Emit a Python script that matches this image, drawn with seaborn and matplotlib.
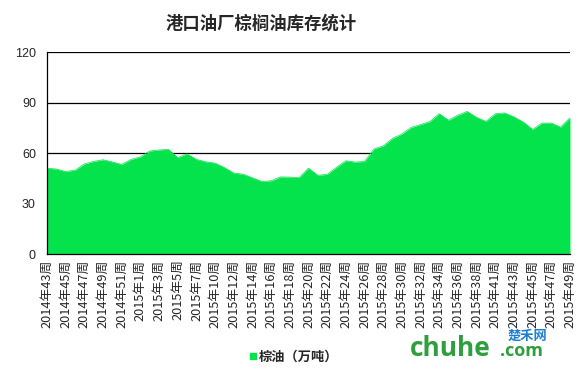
import matplotlib
matplotlib.use("Agg")
import matplotlib.pyplot as plt
from matplotlib.lines import Line2D
import seaborn as sns
import pandas as pd
import numpy as np

weeks_2014 = [43, 44, 45, 46, 47, 48, 49, 50, 51, 52]
weeks_2015 = [1, 2, 3, 4, 5, 6, 7, 8, 10, 11, 12, 13, 14, 15, 16, 17, 18, 19, 20,
              21, 22, 23, 24, 25, 26, 27, 28, 29, 30, 31, 32, 33, 34, 35, 36, 37, 38,
              40, 41, 42, 43, 44, 45, 46, 47, 48, 49]
categories = [f"2014年{w}周" for w in weeks_2014] + [f"2015年{w}周" for w in weeks_2015]

stocks = [51.0, 50.5, 49.0, 49.8, 53.5, 55.0, 56.0, 54.7, 53.2, 56.2,
          57.7, 61.2, 61.8, 62.2, 57.3, 59.5, 56.2, 54.8, 54.0, 51.4,
          48.1, 47.4, 45.3, 43.1, 43.5, 45.8, 45.7, 45.4, 51.0, 46.8,
          47.3, 51.5, 55.4, 54.6, 55.0, 62.4, 64.2, 68.7, 71.3, 75.2,
          76.9, 78.7, 83.4, 79.5, 82.5, 84.7, 81.2, 78.8, 83.3, 83.8,
          81.5, 78.4, 74.0, 77.8, 77.8, 75.4, 81.0]

series_name = "棕油（万吨）"
title = "港口油厂棕榈油库存统计"
y_ticks = [0, 30, 60, 90, 120]
green = "#05E34C"

df = pd.DataFrame({"pos": np.arange(len(categories)), "week": categories, "value": stocks})

sns.set_theme(style="white")
plt.rcParams["font.family"] = ["Noto Sans CJK SC", "DejaVu Sans"]

fig = plt.figure(figsize=(5.86, 3.78), dpi=100)
ax = fig.add_axes([0.0802, 0.328, 0.8925, 0.5344])

sns.lineplot(data=df, x="pos", y="value", ax=ax, color=green, linewidth=0.5, zorder=3)
ax.fill_between(df["pos"], 0, df["value"], color=green, linewidth=0, zorder=3)

ax.set_xlim(0, len(categories) - 1)
ax.set_ylim(0, 120)
ax.set_yticks(y_ticks)
ax.set_yticklabels([str(t) for t in y_ticks], fontsize=9, family="Liberation Sans")
ax.set_xticks(df["pos"][::2])
ax.set_xticklabels(df["week"][::2], rotation=90, fontsize=9.2)
ax.tick_params(axis="both", length=0, pad=4)
ax.tick_params(axis="y", pad=8)
ax.set_xlabel("")
ax.set_ylabel("")

for t in y_ticks[1:]:
    ax.axhline(t, color="black", linewidth=0.9, zorder=1)

for s in ["top", "right"]:
    ax.spines[s].set_visible(False)
for s in ["left", "bottom"]:
    ax.spines[s].set_color("black")
    ax.spines[s].set_linewidth(0.9)
    ax.spines[s].set_zorder(4)

fig.text(0.445, 0.938, title, ha="center", va="center", fontsize=12.5, fontweight="bold")

handle = Line2D([], [], marker="s", linestyle="none", markersize=5,
                markerfacecolor=green, markeredgecolor=green)
fig.legend([handle], [series_name], loc="center", bbox_to_anchor=(0.5, 0.056),
           frameon=False, prop={"size": 9.5, "weight": "bold"},
           handletextpad=0.1, handlelength=0.8)

fig.text(0.70, 0.078, "chuhe", color="#2E9E3E", fontsize=19, fontweight="bold",
         family="Open Sans", ha="left", va="center")
fig.text(0.853, 0.072, ".com", color="#2E9E3E", fontsize=13, fontweight="bold",
         family="Open Sans", ha="left", va="center")
fig.text(0.866, 0.112, "楚禾网", color="#1E7FD0", fontsize=9.5, fontweight="bold",
         style="italic", ha="left", va="center")

fig.savefig("out.png", dpi=100)
